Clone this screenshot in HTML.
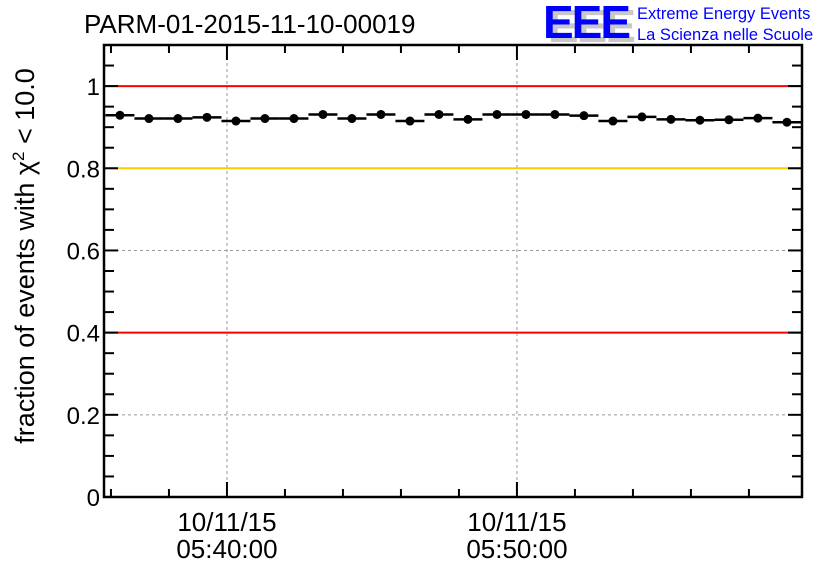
<!DOCTYPE html>
<html><head><meta charset="utf-8"><style>
body{margin:0;background:#fff;}
svg{display:block;font-family:"Liberation Sans",sans-serif;}
</style></head><body>
<svg id="chart" width="836" height="572" viewBox="0 0 836 572" xmlns="http://www.w3.org/2000/svg">
<text x="84" y="33" font-size="26" fill="#000">PARM-01-2015-11-10-00019</text>
<g>
<text x="548" y="42" font-size="46" font-weight="bold" fill="#c8c8c8" letter-spacing="-2">EEE</text>
<text x="543" y="38" font-size="46" font-weight="bold" fill="#0000ff" letter-spacing="-2">EEE</text>
<text x="637" y="19" font-size="16.5" fill="#0000ff">Extreme Energy Events</text>
<text x="637" y="40" font-size="16.5" fill="#0000ff">La Scienza nelle Scuole</text>
</g>
<g id="grid"></g><g id="refs"></g><g id="axes"></g><g id="marks"></g>
<text transform="translate(34,256) rotate(-90)" text-anchor="middle" font-size="27" fill="#000">fraction of events with χ<tspan dy="-10" font-size="17">2</tspan><tspan dy="10"> &lt; 10.0</tspan></text>
</svg>
<script>
const values=[0.929,0.921,0.921,0.924,0.915,0.921,0.921,0.931,0.921,0.931,0.915,0.931,0.919,0.931,0.931,0.931,0.928,0.915,0.925,0.919,0.917,0.918,0.922,0.912];
const startMinute=36.31;
const yTicks=[0,0.2,0.4,0.6,0.8,1];
const yTickLabels=["0","0.2","0.4","0.6","0.8","1"];
const xMajor=[40,50];
const xLabelsDate=["10/11/15","10/11/15"];
const xLabelsTime=["05:40:00","05:50:00"];
const refLines=[1,0.8,0.4];
const refColors=["#ff0000","#ffcc00","#ff0000"];
const L=104,R=802,T=45,B=497,X0=35.76,X1=59.83,Y0=0,Y1=1.1;
const xs=m=>L+(m-X0)/(X1-X0)*(R-L);
const ys=v=>B-(v-Y0)/(Y1-Y0)*(B-T);
const NS="http://www.w3.org/2000/svg";
function mk(p,t,a){const e=document.createElementNS(NS,t);for(const k in a)e.setAttribute(k,a[k]);document.getElementById(p).appendChild(e);return e;}
yTicks.forEach(v=>{if(v>0){const g=mk('grid','line',{x1:L,x2:R,y1:ys(v),y2:ys(v),stroke:'#999','stroke-dasharray':'3,3','stroke-width':1});

}});
xMajor.forEach(m=>{const g=mk('grid','line',{x1:xs(m),x2:xs(m),y1:T,y2:B,stroke:'#999','stroke-dasharray':'3,3','stroke-width':1});

});
refLines.forEach((v,i)=>{const r=mk('refs','line',{x1:L,x2:R,y1:ys(v),y2:ys(v),stroke:refColors[i],'stroke-width':2});

});
const f=mk('axes','rect',{x:L,y:T,width:R-L,height:B-T,fill:'none',stroke:'#000','stroke-width':2.5});


for(let i=0;i<=22;i++){const v=i*0.05,y=ys(v),len=(i%4==0)?14:10;
mk('axes','line',{x1:L,x2:L+len,y1:y,y2:y,stroke:'#000','stroke-width':2});
mk('axes','line',{x1:R,x2:R-len,y1:y,y2:y,stroke:'#000','stroke-width':2});}
yTicks.forEach((v,i)=>{const t=mk('axes','text',{x:100,y:ys(v)+9,'text-anchor':'end','font-size':24});t.textContent=yTickLabels[i];

});
for(let m=36;m<=59;m+=2){const x=xs(m),len=(m%10==0)?15:8;
mk('axes','line',{x1:x,x2:x,y1:B,y2:B-len,stroke:'#000','stroke-width':2});
mk('axes','line',{x1:x,x2:x,y1:T,y2:T+len,stroke:'#000','stroke-width':2});}
xMajor.forEach((m,i)=>{const a=mk('axes','text',{x:xs(m),y:531,'text-anchor':'middle','font-size':26});a.textContent=xLabelsDate[i];


const b=mk('axes','text',{x:xs(m),y:558,'text-anchor':'middle','font-size':26});b.textContent=xLabelsTime[i];

});
values.forEach((v,i)=>{const m=startMinute+i;
const l=mk('marks','line',{x1:xs(m-0.5),x2:xs(m+0.5),y1:ys(v),y2:ys(v),stroke:'#000','stroke-width':2.5});


const c=mk('marks','circle',{cx:xs(m),cy:ys(v),r:4.5,fill:'#000'});

});
</script>
</body></html>
